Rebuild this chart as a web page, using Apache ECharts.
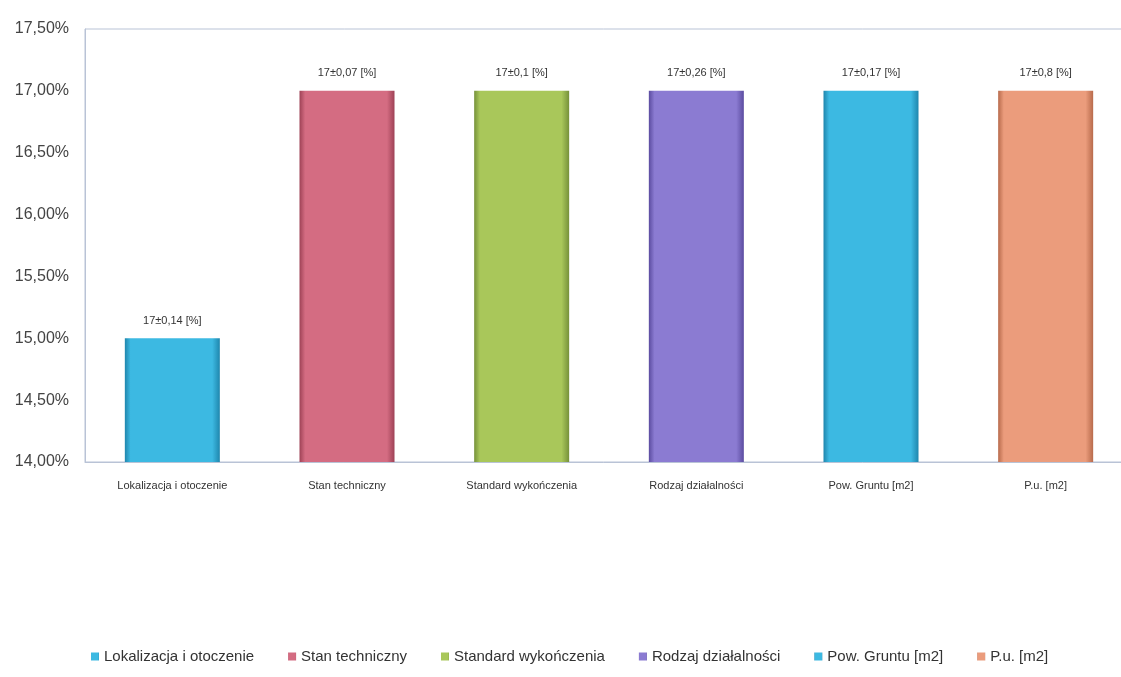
<!DOCTYPE html>
<html>
<head>
<meta charset="utf-8">
<script src="https://cdn.jsdelivr.net/npm/echarts@6/dist/echarts.min.js"></script>
<style>
html,body{margin:0;padding:0;background:#fff;}
#chart{width:1121px;height:677px;}
</style>
</head>
<body>
<div id="chart"></div>
<script>
const categories = ['Lokalizacja i otoczenie','Stan techniczny','Standard wykończenia','Rodzaj działalności','Pow. Gruntu [m2]','P.u. [m2]'];
const values = [15.0, 17.0, 17.0, 17.0, 17.0, 17.0];
const barLabels = ['17±0,14 [%]','17±0,07 [%]','17±0,1 [%]','17±0,26 [%]','17±0,17 [%]','17±0,8 [%]'];
const colors = ['#3cb9e2','#d46c82','#a9c75a','#8b7bd2','#3cb9e2','#eb9c7c'];
const edgeColors = ['#1f86ad','#9e4256','#76913a','#5b4ca0','#1f86ad','#b86b4c'];
const yTicks = {min:14, max:17.5, interval:0.5};

const font = '"Liberation Sans", Arial, sans-serif';

const series = categories.map((name, i) => ({
  name: name,
  type: 'bar',
  barWidth: 95,
  barGap: '-100%',
  data: categories.map((c, j) => j === i ? values[i] : null),
  itemStyle: {
    color: new echarts.graphic.LinearGradient(0,0,1,0,[
      {offset:0, color: edgeColors[i]},
      {offset:0.06, color: colors[i]},
      {offset:0.92, color: colors[i]},
      {offset:1, color: edgeColors[i]}
    ])
  },
  label: {
    show: true,
    position: 'top',
    distance: 12,
    formatter: () => barLabels[i],
    fontFamily: font,
    fontSize: 11,
    color: '#333'
  }
}));

const chart = echarts.init(document.getElementById('chart'));
chart.setOption({
  backgroundColor: '#fff',
  animation: false,
  color: colors,
  grid: {left: 85, width: 1048, top: 29, bottom: 215, show: true, borderColor: '#b9c3d6', borderWidth: 1, outerBoundsMode: 'none', containLabel: false},
  legend: {
    bottom: 8,
    left: 86,
    icon: 'rect',
    itemWidth: 8,
    itemHeight: 8,
    itemGap: 34,
    textStyle: {fontFamily: font, fontSize: 15, color: '#333'},
    data: categories
  },
  xAxis: {
    type: 'category',
    data: categories,
    axisLine: {show: true, lineStyle: {color: '#b9c3d6'}},
    axisTick: {show: false},
    axisLabel: {fontFamily: font, fontSize: 11, color: '#333', margin: 18}
  },
  yAxis: {
    type: 'value',
    min: yTicks.min,
    max: yTicks.max,
    interval: yTicks.interval,
    axisLine: {show: true, lineStyle: {color: '#b9c3d6'}},
    axisTick: {show: false},
    splitLine: {show: false},
    axisLabel: {
      fontFamily: font, fontSize: 16, color: '#444', margin: 16,
      formatter: v => v.toFixed(2).replace('.', ',') + '%'
    }
  },
  series: series
});
</script>
</body>
</html>
